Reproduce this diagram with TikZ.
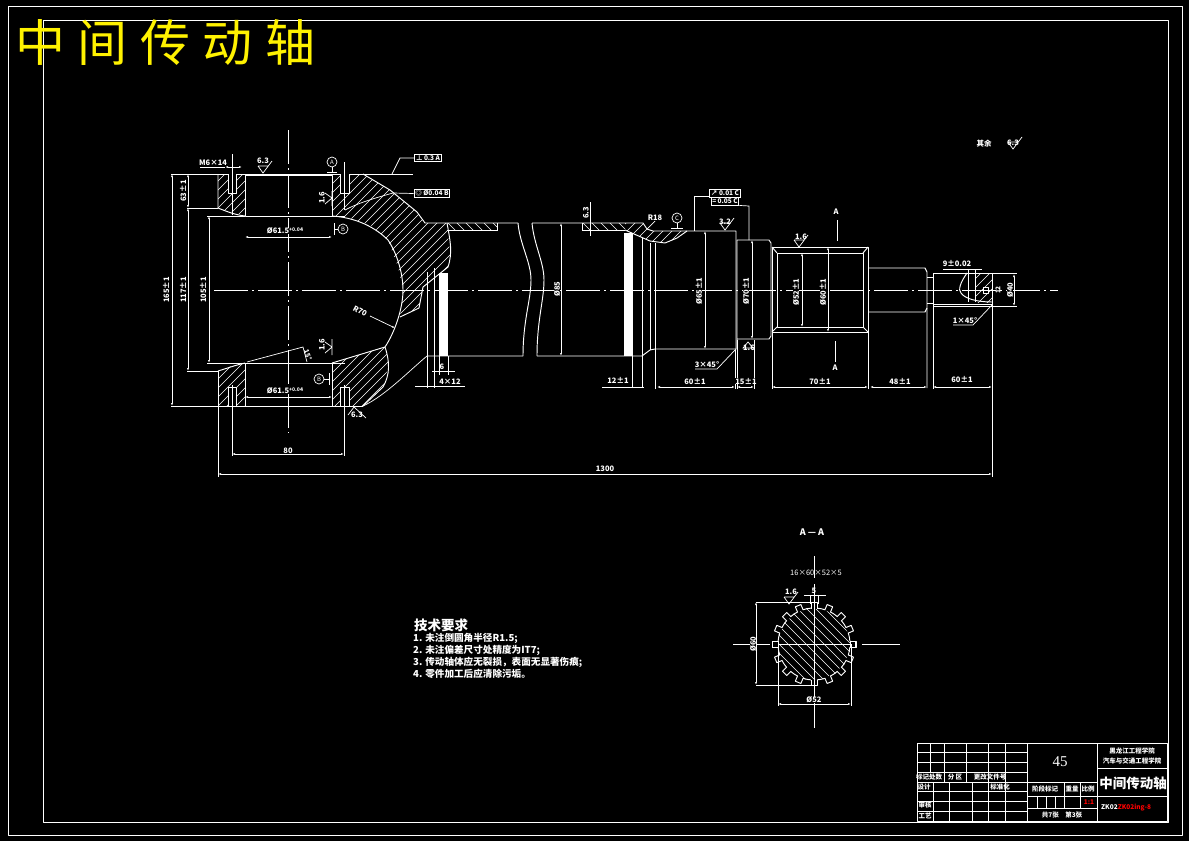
\documentclass[tikz,border=0pt]{standalone}
\usepackage{fontspec}
\usetikzlibrary{arrows.meta}
\setmainfont{Noto Sans CJK SC}
\newfontfamily\titlefont[LetterSpace=25]{Noto Sans CJK SC}
\newfontfamily\matfont{Liberation Serif}

\def\scale{1}
\def\vgrid{930/743/772, 944/743/782, 966/743/782, 988/743/821, 1005/743/821}
\def\hgrid{752/917/1027, 762/917/1027, 772/917/1027, 782/917/1027, 791/917/1027, 801/917/1027, 811/917/1027}
\def\dimlist{{(172,174)/(172,406)}, {(188,208)/(188,371)}, {(209,216)/(209,363)}, {(188,174)/(188,208)}, {(245,237)/(332,237)}, {(245,397)/(332,397)}, {(232,454)/(344,454)}, {(218,474)/(992,474)}, {(561,223)/(561,356)}, {(705,231)/(705,349)}, {(752,240)/(752,339)}, {(802,253)/(802,327)}, {(828,247)/(828,332)}, {(657,387)/(735,387)}, {(737,387)/(754,387)}, {(772,387)/(868,387)}, {(870,387)/(927,387)}, {(933,387)/(992,387)}, {(1014,274)/(1014,306)}, {(756,602)/(756,685)}, {(778,704)/(851,704)}}
\def\dimtext{{(166,290)/dima/90/165±1}, {(183,290)/dimb/90/117±1}, {(203,290)/dimc/90/105±1}, {(183,191)/dimd/90/63±1}, {(557,289)/dime/90/Ø85}, {(699,291)/dimf/90/Ø65±1}, {(746,291)/dimg/90/Ø70±1}, {(796,292)/dimh/90/Ø52±1}, {(823,292)/dimi/90/Ø60±1}, {(1010,290)/dimj/90/Ø40}, {(695,381)/dimk/0/60±1}, {(746,381)/diml/0/15±1}, {(820,381)/dimm/0/70±1}, {(900,381)/dimn/0/48±1}, {(962,379)/dimo/0/60±1}, {(618,380)/dimp/0/12±1}, {(450,382)/dimq/0/4×12}}
\def\marklist{{263/173}, {725/230}, {799/247}, {1013/149}, {789/604}}

\tikzstyle{outline}=[draw=white, line width=0.95pt, line join=round]
\tikzstyle{thinline}=[draw=white, line width=0.7pt]
\tikzstyle{hatch}=[draw=white, line width=0.55pt]
\tikzstyle{centerline}=[draw=white, line width=0.8pt, dash pattern=on 34pt off 4pt on 2pt off 4pt]
\tikzstyle{dimline}=[draw=white, line width=0.7pt, {Latex[length=3pt,width=2pt]}-{Latex[length=3pt,width=2pt]}]
\tikzstyle{label}=[text=white, font=\bfseries\fontsize{7.5}{8}\selectfont, inner sep=0pt]
\tikzstyle{cadtext}=[text=white, font=\bfseries\fontsize{9.6}{10}\selectfont, inner sep=0pt, anchor=west]
\tikzstyle{cell}=[text=white, font=\bfseries\fontsize{6.5}{7}\selectfont, inner sep=0pt]
\tikzstyle{tolbox}=[draw=white, line width=0.9pt, text=white, font=\bfseries\fontsize{6.5}{7}\selectfont, inner sep=1.2pt]
\tikzstyle{datum}=[circle, draw=white, line width=0.7pt, text=white, font=\fontsize{6}{6}\selectfont, minimum size=10pt, inner sep=0pt]

\newcommand{\hatchup}[1]{\begin{scope}\clip #1;
  \foreach \k in {200,209,...,1500} {\draw[hatch] (\k,100) -- ++(-400,400);}
\end{scope}}
\newcommand{\hatchdown}[1]{\begin{scope}\clip #1;
  \foreach \k in {200,209,...,900} {\draw[hatch] (\k,200) -- ++(600,600);}
\end{scope}}

\begin{document}
\begin{tikzpicture}[x=\scale pt,y=-\scale pt]
  \useasboundingbox (0,0) rectangle (1189,841);
  \fill[black] (0,0) rectangle (1189,841);
  % frames
  \draw[outline] (8,6) rectangle (1182,835);
  \draw[outline] (43,20) rectangle (1168,822);
  \node[text=yellow, font=\titlefont\fontsize{50}{50}\selectfont, inner sep=0pt, anchor=west] (title) at (15,42) {中间传动轴};

  % hatched sections of the yoke and shaft
  \hatchup{(218,175) -- (245,175) -- (245,216) -- (232,212) -- (218,208) -- cycle}
  \hatchup{(332,175) -- (363,174) -- (390,190) -- (417,212) -- (425,223) -- (447,223) -- (449,245) -- (451,255) -- (448,267) -- (423,287) -- (419,308) -- (400,317) -- (403,290) -- (398,267) -- (388,240) -- (372,226) -- (350,218) -- (332,216) -- cycle}
  \hatchup{(218,406) -- (245,406) -- (245,363) -- (232,366) -- (218,371) -- cycle}
  \hatchup{(332,406) -- (363,406) -- (383,387) -- (389,363) -- (385,347) -- (332,363) -- cycle}
  \hatchup{(625,223) -- (643,223) -- (647,229) -- (653,231) -- (687,231) -- (677,238) -- (665,243) -- (650,241) -- (625,230) -- cycle}
  \hatchdown{(447,223) rectangle (497,230)}
  \hatchdown{(582,223) rectangle (625,230)}

  % yoke
  \path[outline] (218,174) -- (218,208) .. controls (228,212) and (236,215) .. (245,216);
  \path[outline] (218,371) .. controls (228,368) and (236,365) .. (245,363);
  \path[outline] (218,371) -- (218,406) -- (363,406);
  \path[outline] (245,175) rectangle (332,216);
  \path[outline] (245,363) rectangle (332,406);
  \path[outline] (363,174) -- (390,190) -- (417,212) -- (425,223) -- (518,223);
  \path[outline] (332,216) .. controls (362,218) and (380,232) .. (388,240) .. controls (398,255) and (403,275) .. (403,290) .. controls (403,308) and (395,332) .. (385,347) -- (332,363);
  \path[outline] (385,347) .. controls (390,362) and (390,375) .. (383,387) -- (363,406);
  \path[outline] (447,223) .. controls (450,240) and (453,252) .. (448,267) -- (423,287) -- (419,308) -- (400,317);
  \path[thinline] (363,406) .. controls (385,396) and (410,370) .. (427,356) -- (523,356);
  \path[thinline] (171,174) -- (413,174);
  \path[thinline] (171,406) -- (218,406);
  \path[thinline] (187,208) -- (218,208);
  \path[thinline] (187,371) -- (218,371);
  \path[thinline] (207,216) -- (245,216);
  \path[thinline] (207,363) -- (245,363);
  \path[thinline] (332,216) -- (345,216);
  \path[thinline] (332,363) -- (345,363);
  \foreach \x/\w in {228/8, 340/9} {
    \path[outline, fill=black] (\x,174) -- ++(0,19) -- ++(\w,0) -- ++(0,-19);
    \path[outline, fill=black] (\x,406) -- ++(0,-19) -- ++(\w,0) -- ++(0,19);
  }

  % shaft
  \fill[white] (439,273) rectangle (448,356);
  \fill[white] (624,233) rectangle (633,356);
  \path[outline] (518,223) .. controls (520,245) and (531,262) .. (531,280) .. controls (531,300) and (523,320) .. (523,356);
  \path[outline] (532,223) .. controls (534,245) and (544,262) .. (544,280) .. controls (544,300) and (537,320) .. (537,356);
  \path[outline] (532,223) -- (643,223) -- (647,229) -- (653,231) -- (736,231) -- (736,349) -- (655,349) -- (650,350) -- (642,356) -- (537,356);
  \path[outline] (625,230) -- (650,241) -- (665,243) -- (677,238) -- (687,231);
  \path[thinline] (447,230) -- (497,230) -- (497,223);
  \path[thinline] (582,223) -- (582,230) -- (625,230);
  \path[thinline] (642,238) -- (642,388);
  \path[thinline] (650,243) -- (650,350);
  \path[thinline] (655,243) -- (655,389);
  \path[thinline] (632,356) -- (632,388);
  \path[thinline] (427,272) -- (427,388);
  \path[thinline] (434,268) -- (434,388);
  \path[thinline] (439,356) -- (439,375);
  \path[thinline] (448,356) -- (448,375);

  % splined end
  \path[outline] (737,349) -- (737,240) -- (769,240) -- (771,243) -- (771,336) -- (769,339) -- (737,339);
  \path[outline] (772,247) rectangle (868,332);
  \path[outline] (777,253) rectangle (863,327);
  \foreach \ax/\ay/\bx/\by in {772/247/777/253, 868/247/863/253, 772/332/777/327, 868/332/863/327} {
    \path[outline] (\ax,\ay) -- (\bx,\by);
  }
  \path[outline] (869,268) -- (925,268) -- (927,272) -- (927,388);
  \path[outline] (869,312) -- (925,312) -- (927,308);
  \path[outline] (927,277) -- (933,277);
  \path[outline] (927,303) -- (933,303);
  \path[outline] (933,273) rectangle (992,306);
  \path[thinline] (933,304) -- (992,304);
  \hatchup{(975,274) -- (992,274) -- (992,302) -- (975,302) -- cycle}
  \path[outline] (967,273) .. controls (960,283) and (958,290) .. (961,293) .. controls (965,299) and (978,302) .. (992,302);
  \path[outline, fill=black] (983,287) rectangle (988,293);
  \path[thinline] (968,269) -- (968,302);
  \path[thinline] (975,269) -- (975,302);
  \path[thinline] (992,273) -- (1017,273);
  \path[thinline] (992,306) -- (1017,306);
  \node[cell, rotate=90] (keydim) at (998,290) {12};

  % centre lines
  \draw[centerline] (214,290) -- (1058,290);
  \draw[centerline] (288,130) -- (288,433);
  \path[thinline] (232,154) -- (232,215);
  \path[thinline] (344,162) -- (344,210);
  \path[thinline] (232,385) -- (232,456);
  \path[thinline] (344,385) -- (344,456);
  \path[thinline] (218,406) -- (218,477);
  \path[thinline] (992,306) -- (992,477);
  \path[thinline] (735,350) -- (735,389);
  \path[thinline] (737,340) -- (737,389);
  \path[thinline] (754,340) -- (754,389);
  \path[thinline] (772,332) -- (772,389);
  \path[thinline] (868,332) -- (868,389);
  \path[thinline] (933,306) -- (933,389);

  % dimensions
  \foreach \from/\to in \dimlist {
    \path[dimline] \from -- \to;
  }
  \foreach \pos/\name/\ang/\txt in \dimtext {
    \node[label, rotate=\ang, fill=black] (\name) at \pos {\txt};
  }
  \node[label] (threadlabel) at (213,163) {M6×14};
  \path[thinline] (200,167) -- (225,167);
  \path[dimline] (225,167) -- (242,167);
  \node[label, fill=black] (boredim) at (285,231) {Ø61.5\raisebox{2pt}{\tiny +0.04}};
  \node[label, fill=black] (boredimb) at (285,391) {Ø61.5\raisebox{2pt}{\tiny +0.04}};
  \node[label, fill=black] (holedim) at (288,451) {80};
  \node[label, fill=black] (lengthdim) at (605,469) {1300};
  \path[thinline] (602,387) -- (644,387);
  \path[thinline] (415,386) -- (465,386);
  \path[thinline] (432,371) -- (455,371);
  \node[label] (stepdim) at (442,367) {6};

  % leaders
  \node[label, rotate=-28] (radius) at (360,311) {R70};
  \coordinate (radiustip) at (395,328);
  \draw[thinline, -{Latex[length=3pt,width=2pt]}] (370,316) -- (radiustip);
  \path[thinline] (247,362) -- (303,347) -- (307,362);
  \node[label, rotate=-70, font=\bfseries\fontsize{6.5}{7}\selectfont] (angle) at (308,355) {15°};
  \node[label, anchor=south] (fillet) at (655,221) {R18};
  \coordinate (fillettip) at (647,229);
  \draw[thinline] (fillet.south) -- (fillettip);
  \node[label] (chamfera) at (707,365) {3×45°};
  \path[thinline] (695,369) -- (717,369) -- (736,349);
  \node[label] (chamferb) at (965,321) {1×45°};
  \path[thinline] (953,325) -- (973,325) -- (992,305);
  \node[label] (keylabel) at (957,263) {9±0.02};
  \path[thinline] (943,269) -- (982,269);

  % tolerance frames
  \node[tolbox] (tola) at (428,158) {⊥ 0.3 A};
  \coordinate (tolatip) at (392,174);
  \draw[thinline] (tola.west) -- (400,158) -- (tolatip);
  \node[tolbox] (tolb) at (432,193.5) {◎ Ø0.04 B};
  \coordinate (tolbtip) at (345,210);
  \draw[thinline] (tolb.west) -- (393,193) .. controls (375,198) and (358,203) .. (tolbtip);
  \node[tolbox, minimum height=8pt] (tolc) at (725,193) {↗ 0.01 C};
  \node[tolbox, minimum height=8pt] (told) at (725,201) {= 0.05 C};
  \coordinate (tolctip) at (694,231);
  \coordinate (toldtip) at (749,240);
  \draw[thinline] (tolc.west |- 0,196) -- (694,196) -- (tolctip);
  \draw[thinline] (told.south east) -- (749,206) -- (toldtip);

  % datum flags
  \node[datum] (datuma) at (332,162) {A};
  \path[thinline] (datuma) -- (332,172) (327,172) -- (337,172);
  \node[datum] (datumb) at (343,229) {B};
  \path[thinline] (datumb) -- (334,229) (334,223) -- (334,235);
  \node[datum] (datumd) at (319,379) {B};
  \path[thinline] (datumd) -- (329,379) (329,373) -- (329,385);
  \node[datum] (datumc) at (677,218) {C};
  \path[thinline] (datumc) -- (677,228) (671,228) -- (683,228);

  % surface marks
  \foreach \x/\y in \marklist {
    \path[thinline] (\x-5,\y-7) -- (\x,\y) -- (\x+9,\y-12) (\x-5,\y-7) -- (\x+5,\y-7);
  }
  \foreach \pos/\name/\ang/\txt in {{(263,161)/rougha/0/6.3}, {(725,222)/roughb/0/3.2}, {(801,237)/roughc/0/1.6}, {(1013,143)/roughd/0/6.3}, {(791,592)/roughe/0/1.6}, {(749,348)/roughf/0/1.6}, {(322,198)/roughg/90/1.6}, {(322,345)/roughh/90/1.6}, {(586,213)/roughi/90/6.3}, {(357,415)/roughj/0/6.3}} {
    \node[label, rotate=\ang] (\name) at \pos {\txt};
  }
  \path[thinline] (332,191) -- (332,206) (332,198) -- (325,193) (332,198) -- (325,204);
  \path[thinline] (332,339) -- (332,355) (332,347) -- (325,342) (332,347) -- (325,353);
  \path[thinline] (590,202) -- (590,236);
  \path[thinline] (354,407) -- (348,415) (354,407) -- (366,418);
  \path[thinline] (748,342) -- (743,348) -- (753,348) -- cycle;
  \node[label] (rest) at (984,144) {其余};

  % section arrows
  \node[label] (seca) at (836,212) {A};
  \node[label] (secb) at (835,368) {A};
  \path[thinline] (837,220) -- (837,241);
  \path[thinline] (835,341) -- (835,362);

  % spline section
  \hatchdown{(814,644) circle (36.5)}
  \foreach \i in {0,...,15} {
    \begin{scope}[rotate around={22.5*\i:(814,644)}]
      \fill[black] (849.5,641) rectangle (856,647);
      \path[outline] (814,644) ++(-11.25:36) arc[start angle=-11.25, end angle=-5, radius=36];
      \path[outline] (814,644) ++(5:36) arc[start angle=5, end angle=11.25, radius=36];
      \path[outline] (849.5,641) -- (855.5,641) -- (855.5,647) -- (849.5,647);
    \end{scope}
  }
  \foreach \x in {772,850} {
    \path[outline] (\x,641) rectangle ++(6,6);
  }
  \path[thinline] (733,644) -- (770,644) (778,644) -- (851,644) (862,644) -- (900,644);
  \path[thinline] (814,556) -- (814,578) (814,584) -- (814,728);
  \path[thinline] (756,602) -- (814,602) (756,685) -- (814,685);
  \path[thinline] (778,644) -- (778,706) (851,644) -- (851,706);
  \path[thinline] (804,595) -- (826,595) (810,595) -- (810,604) (818,595) -- (818,604);
  \node[label, rotate=90, fill=black] (secdima) at (753,644) {Ø60};
  \node[label, fill=black] (secdimb) at (814,700) {Ø52};
  \node[label] (secdimc) at (814,591) {5};
  \node[label, font=\fontsize{7.5}{8}\selectfont] (splinelabel) at (816,573) {16×60×52×5};
  \node[label, font=\bfseries\fontsize{9}{9}\selectfont] (sectitle) at (812,532) {A — A};

  % notes
  \node[cadtext, font=\bfseries\fontsize{13.5}{14}\selectfont] (notehead) at (414,625) {技术要求};
  \node[cadtext] (notea) at (413,638) {1. 未注倒圆角半径R1.5;};
  \node[cadtext] (noteb) at (413,650) {2. 未注偏差尺寸处精度为IT7;};
  \node[cadtext] (notec) at (413,662) {3. 传动轴体应无裂损，表面无显著伤痕;};
  \node[cadtext] (noted) at (413,674) {4. 零件加工后应清除污垢。};

  % title block
  \draw[outline] (917,743) rectangle (1167,821);
  \foreach \y/\xa/\xb in \hgrid {
    \path[thinline] (\xa,\y) -- (\xb,\y);
  }
  \foreach \x/\ya/\yb in \vgrid {
    \path[thinline] (\x,\ya) -- (\x,\yb);
  }
  \foreach \x in {933,949,972} {
    \path[thinline] (\x,782) -- (\x,821);
  }
  \foreach \y/\xa/\xb in {782/1027/1097, 796/1027/1167, 808/1027/1097, 768/1097/1167} {
    \path[thinline] (\xa,\y) -- (\xb,\y);
  }
  \foreach \x/\ya/\yb in {1027/743/821, 1097/743/821, 1064/782/808, 1080/782/808, 1037/796/808, 1046/796/808, 1055/796/808} {
    \path[thinline] (\x,\ya) -- (\x,\yb);
  }
  \foreach \pos/\name/\txt in {{(929,777)/blocka/标记处数}, {(955,777)/blockb/分 区}, {(990,777)/blockc/更改文件号}, {(924,787)/blockd/设计}, {(1000,787)/blocke/标准化}, {(925,805)/blockf/审核}, {(925,816)/blockg/工艺}, {(1045,789)/blockh/阶段标记}, {(1072,789)/blocki/重量}, {(1088,789)/blockj/比例}, {(1062,815)/blockk/共7张\quad 第3张}, {(1132,751)/blockl/黑龙江工程学院}, {(1132,761)/blockm/汽车与交通工程学院}} {
    \node[cell] (\name) at \pos {\txt};
  }
  \node[cell, font=\matfont\fontsize{15}{15}\selectfont] (blockmat) at (1060,762) {45};
  \node[cell, font=\bfseries\fontsize{13.5}{14}\selectfont] (blockname) at (1133,783) {中间传动轴};
  \node[cell, text=red] (blockscale) at (1089,802) {1:1};
  \node[cell, anchor=west] (blockcode) at (1101,808) {ZK02\textcolor{red}{ZK02ing-8}};
\end{tikzpicture}
\end{document}
